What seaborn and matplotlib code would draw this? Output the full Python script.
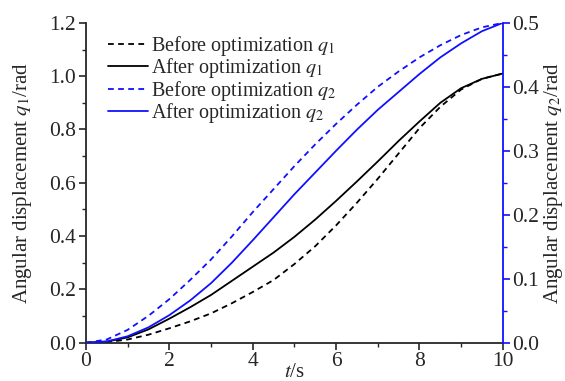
import numpy as np
import pandas as pd
import seaborn as sns
import matplotlib.pyplot as plt
from matplotlib.ticker import MultipleLocator

# values
t = [0, 0.5, 1, 1.5, 2, 2.5, 3, 3.5, 4, 4.5, 5, 5.5, 6, 6.5, 7, 7.5, 8, 8.5, 9, 9.5, 10]
q1_before = [0, 0.002, 0.012, 0.03, 0.054, 0.08, 0.11, 0.148, 0.19, 0.235, 0.295,
             0.362, 0.44, 0.525, 0.615, 0.71, 0.805, 0.885, 0.95, 0.99, 1.01]
q1_after = [0, 0.004, 0.02, 0.05, 0.09, 0.133, 0.179, 0.232, 0.285, 0.338, 0.397,
            0.462, 0.532, 0.605, 0.68, 0.757, 0.83, 0.9, 0.955, 0.99, 1.01]
q2_before = [0, 0.005, 0.02, 0.042, 0.068, 0.098, 0.13, 0.166, 0.204, 0.24, 0.276,
             0.31, 0.342, 0.372, 0.40, 0.424, 0.446, 0.465, 0.481, 0.493, 0.5]
q2_after = [0, 0.002, 0.01, 0.024, 0.043, 0.066, 0.093, 0.125, 0.16, 0.196, 0.232,
            0.266, 0.3, 0.333, 0.364, 0.392, 0.42, 0.446, 0.468, 0.487, 0.5]

sns.set_style("ticks")
plt.rcParams['font.family'] = ['Liberation Serif', 'DejaVu Serif']
plt.rcParams['mathtext.fontset'] = 'stix'
plt.rcParams['xtick.direction'] = 'out'
plt.rcParams['ytick.direction'] = 'out'

df1 = pd.DataFrame({'t': t, 'before': q1_before, 'after': q1_after})
df2 = pd.DataFrame({'t': t, 'before': q2_before, 'after': q2_after})

blue = '#1010ff'
fig = plt.figure(figsize=(5.65, 3.81), dpi=100)
ax = fig.add_axes([0.152, 0.1005, 0.738, 0.8395])
ax2 = ax.twinx()

lw = 1.3
dash = (0, (3.2, 2.4))
sns.lineplot(data=df1, x='t', y='before', ax=ax, color='black', lw=lw,
             linestyle=dash, label=r'Before optimization $q_1$', legend=False)
sns.lineplot(data=df1, x='t', y='after', ax=ax, color='black', lw=lw,
             label=r'After optimization $q_1$', legend=False)
sns.lineplot(data=df2, x='t', y='before', ax=ax2, color=blue, lw=lw,
             linestyle=dash, label=r'Before optimization $q_2$', legend=False)
sns.lineplot(data=df2, x='t', y='after', ax=ax2, color=blue, lw=lw,
             label=r'After optimization $q_2$', legend=False)

ax.set_xlim(0, 10)
ax.set_ylim(0, 1.2)
ax2.set_ylim(0, 0.5)

ax.xaxis.set_major_locator(MultipleLocator(2))
ax.xaxis.set_minor_locator(MultipleLocator(1))
ax.yaxis.set_major_locator(MultipleLocator(0.2))
ax.yaxis.set_minor_locator(MultipleLocator(0.1))
ax2.yaxis.set_major_locator(MultipleLocator(0.1))
ax2.yaxis.set_minor_locator(MultipleLocator(0.05))
ax.yaxis.set_major_formatter(plt.FormatStrFormatter('%.1f'))
ax2.yaxis.set_major_formatter(plt.FormatStrFormatter('%.1f'))

fs_tick = 15.5
fs_lab = 15
for a in (ax, ax2):
    a.tick_params(which='major', length=5, width=1.2, labelsize=fs_tick, pad=2)
    a.tick_params(which='minor', length=3, width=1.0)
    a.spines['top'].set_visible(False)
    for s in a.spines.values():
        s.set_linewidth(1.3)
ax.spines['right'].set_visible(False)
ax2.spines['left'].set_visible(False)
ax2.spines['bottom'].set_visible(False)
ax2.spines['right'].set_color(blue)
ax2.tick_params(axis='y', which='both', color=blue)

ax.set_xlabel(r'$t$/s', fontsize=fs_lab, labelpad=-6)
ax.set_ylabel(r'Angular displacement $q_1$/rad', fontsize=fs_lab, labelpad=11)
ax2.set_ylabel(r'Angular displacement $q_2$/rad', fontsize=fs_lab, rotation=90, labelpad=2)

h1, l1 = ax.get_legend_handles_labels()
h2, l2 = ax2.get_legend_handles_labels()
ax2.legend(h1 + h2, l1 + l2, loc='upper left', frameon=False, fontsize=14.5,
           handlelength=2.0, handletextpad=0.15, labelspacing=-0.08,
           borderpad=0, borderaxespad=0, bbox_to_anchor=(0.053, 0.965))

fig.savefig('out.png', dpi=100)
